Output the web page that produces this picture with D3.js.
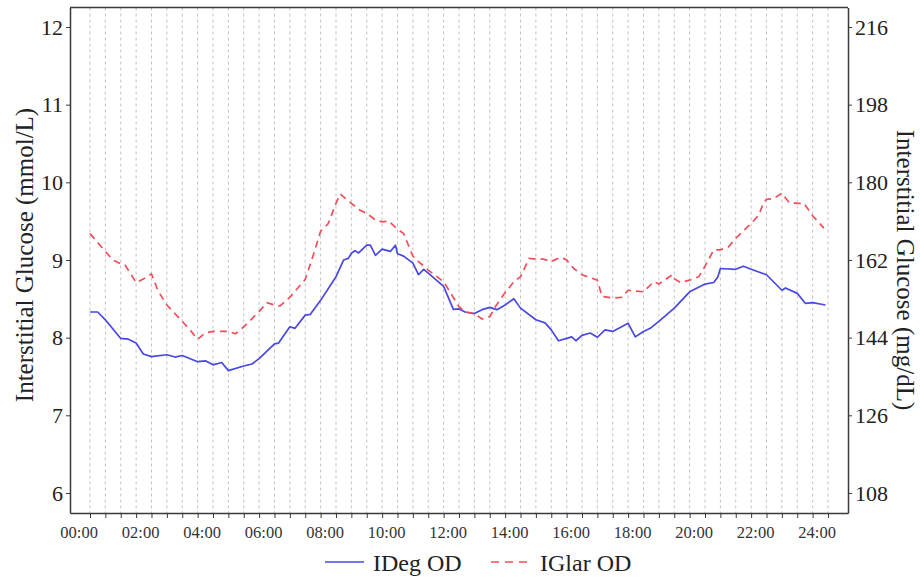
<!DOCTYPE html>
<html>
<head>
<meta charset="utf-8">
<script src="https://cdn.jsdelivr.net/npm/d3@7/dist/d3.min.js"></script>
<style>
body { margin: 0; background: #fff; }
svg, svg text { font-family: "Liberation Serif", "Times New Roman", serif; }
</style>
</head>
<body>
<div id="chart"></div>
<script>
// minutes after midnight, interstitial glucose in mmol/L
var idegTime = [0, 15, 30, 60, 75, 90, 104, 120, 150, 166, 180, 210, 226, 240, 257, 270, 300, 316, 330, 360,
  368, 390, 400, 420, 430, 450, 480, 495, 504, 510, 517, 524, 540, 547, 557, 570, 586, 596, 600, 612, 630, 641, 651, 660, 690, 709, 720,
  732, 750, 765, 780, 794, 810, 827, 840, 870, 888, 900, 914, 930, 940, 948, 960, 976, 990, 1005, 1020, 1050, 1064, 1080,
  1093, 1110, 1140, 1170, 1200, 1217, 1225, 1230, 1260, 1275, 1290, 1320, 1350, 1357, 1380, 1396, 1410, 1435];
var idegValue = [8.33, 8.33, 8.23, 7.99, 7.98, 7.93, 7.79, 7.755, 7.78, 7.75, 7.77, 7.69, 7.70, 7.65, 7.68, 7.575, 7.635, 7.66, 7.73, 7.92,
  7.93, 8.14, 8.12, 8.29, 8.30, 8.48, 8.785, 9.0, 9.02, 9.086, 9.12, 9.09, 9.19, 9.19, 9.06, 9.14, 9.11, 9.19, 9.08, 9.05, 8.96, 8.81, 8.88, 8.83, 8.66, 8.365, 8.37,
  8.33, 8.31, 8.36, 8.39, 8.36, 8.42, 8.50, 8.38, 8.23, 8.19, 8.10, 7.96, 7.99, 8.01, 7.96, 8.03, 8.06, 8.005, 8.10, 8.08, 8.185, 8.01, 8.08,
  8.12, 8.21, 8.38, 8.59, 8.69, 8.71, 8.78, 8.89, 8.88, 8.92, 8.88, 8.81, 8.61, 8.64, 8.57, 8.44, 8.45, 8.42];

var iglarTime = [0, 30, 45, 60, 68, 90, 104, 120, 133, 150, 180, 195, 210, 225, 240, 270, 284, 300, 330, 345, 360,
  371, 390, 420, 436, 450, 465, 480, 488, 510, 527, 540, 557, 570, 583, 600, 612, 630, 641, 660, 690, 720,
  732, 750, 765, 780, 791, 810, 827, 840, 857, 870, 885, 900, 918, 930, 944, 960, 990, 999, 1020, 1038, 1050, 1080,
  1100, 1110, 1136, 1140, 1152, 1170, 1188, 1200, 1217, 1230, 1246, 1260, 1290, 1305, 1315, 1320, 1334, 1350, 1364, 1380, 1393, 1410, 1432];
var iglarValue = [9.34, 9.11, 9.0, 8.95, 8.94, 8.71, 8.755, 8.82, 8.6, 8.42, 8.21, 8.1, 7.98, 8.06, 8.08, 8.08, 8.05, 8.14, 8.335, 8.45, 8.42,
  8.41, 8.52, 8.75, 9.07, 9.37, 9.47, 9.73, 9.85, 9.73, 9.64, 9.60, 9.515, 9.49, 9.50, 9.395, 9.34, 9.05, 8.98, 8.87, 8.72, 8.40,
  8.33, 8.31, 8.24, 8.27, 8.40, 8.58, 8.72, 8.785, 9.02, 9.01, 9.01, 8.98, 9.035, 9.00, 8.89, 8.81, 8.74, 8.53, 8.51, 8.52, 8.61, 8.59,
  8.72, 8.69, 8.81, 8.76, 8.71, 8.74, 8.785, 8.92, 9.13, 9.13, 9.17, 9.28, 9.47, 9.58, 9.75, 9.78, 9.79, 9.86, 9.74, 9.73, 9.73, 9.57, 9.41];

var xTickLabels = ["00:00", "02:00", "04:00", "06:00", "08:00", "10:00", "12:00",
  "14:00", "16:00", "18:00", "20:00", "22:00", "24:00"];
var yTicksMmol = [6, 7, 8, 9, 10, 11, 12];
var yTicksMg = [108, 126, 144, 162, 180, 198, 216];
var seriesNames = ["IDeg OD", "IGlar OD"];

function GlucoseChart(div) {
    this.div = d3.select(div);
    this.width = 920;
    this.height = 578;
    this.left = 70;
    this.right = 848;
    this.top = 7.5;
    this.bottom = 513;

    this.font = "'Liberation Serif', 'Times New Roman', serif";
    this.blue = "#4848e4";
    this.red = "#ef4f5a";
    this.axisColor = "#3a3a3a";

    this.x = d3.scaleLinear().domain([-39, 1479]).range([this.left, this.right]);
    this.y = d3.scaleLinear().domain([5.742, 12.251]).range([this.bottom, this.top]);
    this.yRight = d3.scaleLinear().domain([5.742 * 18, 12.251 * 18]).range([this.bottom, this.top]);

    this.svg = this.div.append("svg")
        .attr("width", this.width).attr("height", this.height);

    this.drawGrid();
    this.drawLines();
    this.drawAxes();
    this.drawLegend();
}

GlucoseChart.prototype.drawGrid = function() {
    var x = this.x;
    this.svg.append("g").selectAll("line")
        .data(d3.range(0, 1441, 30)).enter().append("line")
        .attr("x1", d => x(d)).attr("x2", d => x(d))
        .attr("y1", this.top).attr("y2", this.bottom)
        .attr("stroke", "#c2c2c2").attr("stroke-width", 1)
        .attr("stroke-dasharray", "3,3");
};

GlucoseChart.prototype.drawLines = function() {
    var x = this.x, y = this.y;
    var line = d3.line().x(d => x(d[0])).y(d => y(d[1]));

    this.svg.append("path")
        .datum(d3.zip(idegTime, idegValue))
        .attr("d", line).attr("fill", "none")
        .attr("stroke", this.blue).attr("stroke-width", 1.7)
        .attr("stroke-linejoin", "round");

    this.svg.append("path")
        .datum(d3.zip(iglarTime, iglarValue))
        .attr("d", line).attr("fill", "none")
        .attr("stroke", this.red).attr("stroke-width", 1.7)
        .attr("stroke-dasharray", "7,5");
};

GlucoseChart.prototype.drawAxes = function() {
    var obj = this;

    var xAxis = d3.axisBottom(this.x)
        .tickValues(d3.range(0, 1441, 30))
        .tickSize(5).tickSizeOuter(0).tickPadding(8)
        .tickFormat(d => d % 120 === 0 ? xTickLabels[d / 120] : "");
    var gx = this.svg.append("g")
        .attr("transform", "translate(0," + this.bottom + ")")
        .call(xAxis);
    gx.selectAll("text").attr("dx", -11.4)
        .style("font-size", "16.5px").attr("fill", "#333");

    var yAxis = d3.axisLeft(this.y).tickValues(yTicksMmol)
        .tickSize(4).tickSizeOuter(0).tickPadding(3)
        .tickFormat(d3.format("d"));
    var gy = this.svg.append("g")
        .attr("transform", "translate(" + this.left + ",0)")
        .call(yAxis);
    gy.selectAll("text").style("font-size", "22px").attr("fill", "#222");

    var yAxisR = d3.axisRight(this.yRight).tickValues(yTicksMg)
        .tickSize(4).tickSizeOuter(0).tickPadding(3)
        .tickFormat(d3.format("d"));
    var gr = this.svg.append("g")
        .attr("transform", "translate(" + this.right + ",0)")
        .call(yAxisR);
    gr.selectAll("text").style("font-size", "22px").attr("fill", "#222");

    [gx, gy, gr].forEach(function(g) {
        g.attr("font-family", null).style("font-family", obj.font);
        g.selectAll("text").style("font-family", obj.font);
        g.select(".domain").attr("stroke", obj.axisColor).attr("stroke-width", 1.5);
        g.selectAll(".tick line").attr("stroke", obj.axisColor).attr("stroke-width", 1);
    });

    // top border closes the frame
    this.svg.append("line")
        .attr("x1", this.left).attr("x2", this.right)
        .attr("y1", this.top).attr("y2", this.top)
        .attr("stroke", this.axisColor).attr("stroke-width", 1.5);

    this.svg.append("text")
        .attr("transform", "translate(33,255) rotate(-90)")
        .attr("text-anchor", "middle")
        .style("font-size", "25px").attr("fill", "#222")
        .text("Interstitial Glucose (mmol/L)");

    this.svg.append("text")
        .attr("transform", "translate(897,270) rotate(90)")
        .attr("text-anchor", "middle")
        .style("font-size", "25px").attr("fill", "#222")
        .text("Interstitial Glucose (mg/dL)");
};

GlucoseChart.prototype.drawLegend = function() {
    var items = [
        {name: seriesNames[0], color: this.blue, dash: null, x1: 325, x2: 364, tx: 373},
        {name: seriesNames[1], color: this.red, dash: "8,6", x1: 491, x2: 527, tx: 540}
    ];
    var g = this.svg.append("g");
    items.forEach(function(it) {
        g.append("line")
            .attr("x1", it.x1).attr("x2", it.x2).attr("y1", 562).attr("y2", 562)
            .attr("stroke", it.color).attr("stroke-width", 1.7)
            .attr("stroke-dasharray", it.dash);
        g.append("text")
            .attr("x", it.tx).attr("y", 571)
            .style("font-size", "24px").attr("fill", "#222")
            .text(it.name);
    });
};

new GlucoseChart("#chart");
</script>
</body>
</html>
